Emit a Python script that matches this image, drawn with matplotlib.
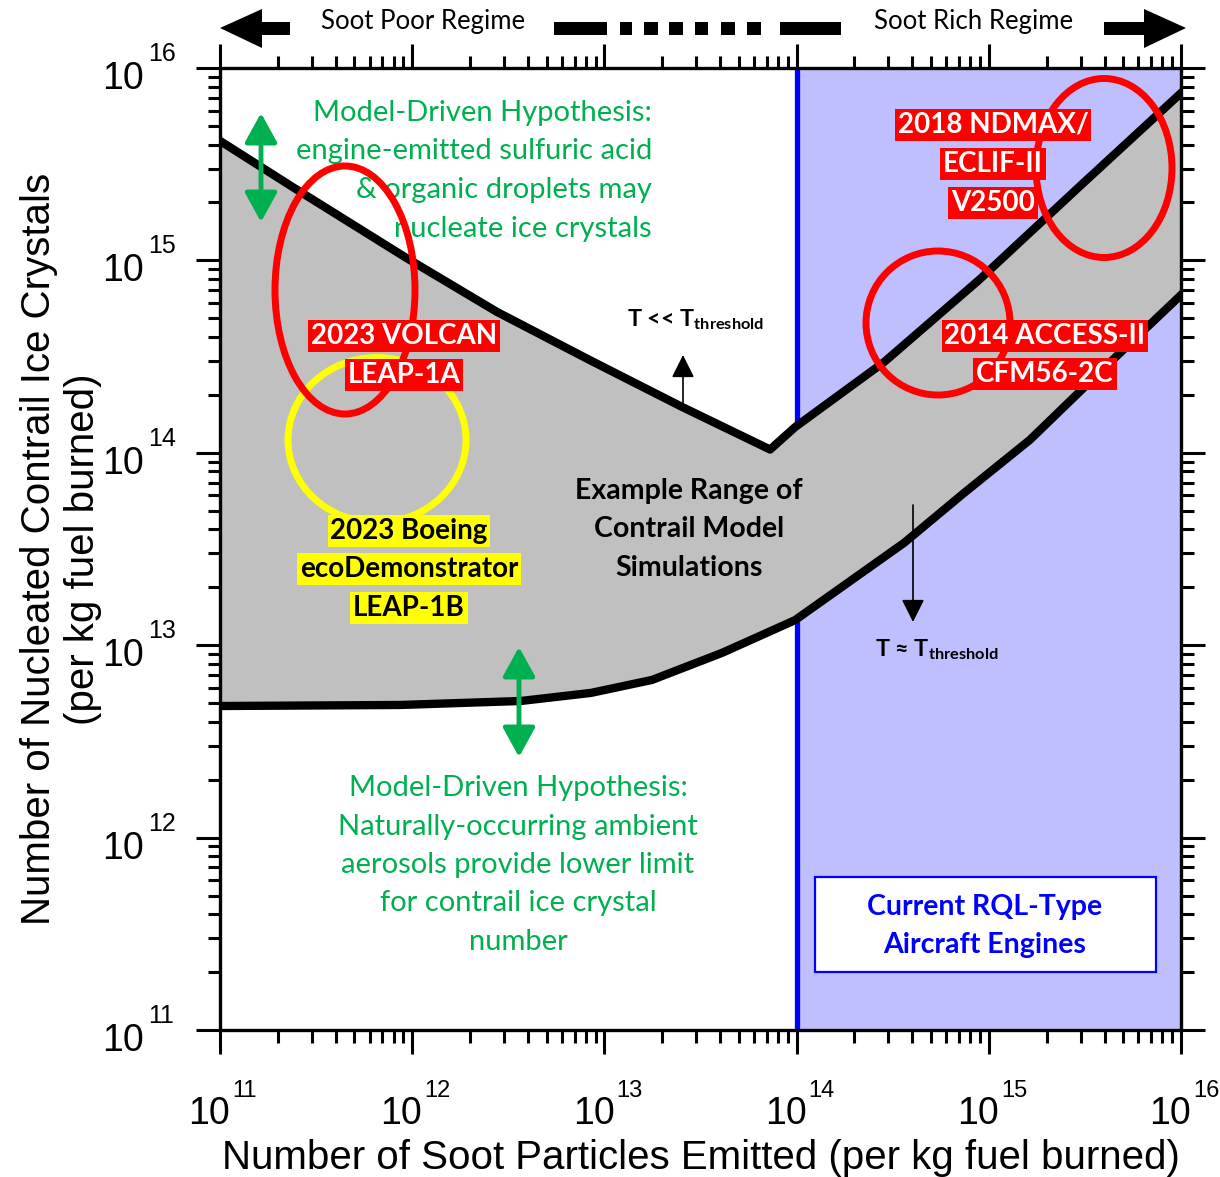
import numpy as np
import matplotlib
matplotlib.use("Agg")
import matplotlib.pyplot as plt
from matplotlib.patches import Ellipse, Polygon, Rectangle
from matplotlib.ticker import LogLocator, NullFormatter, FixedLocator

plt.rcParams['font.family'] = ['Liberation Sans', 'DejaVu Sans']
plt.rcParams['mathtext.fontset'] = 'custom'
plt.rcParams['mathtext.rm'] = 'Liberation Sans'
plt.rcParams['mathtext.bf'] = 'Lato:bold'

# ---------------- data ----------------
soot_upper = [1e11, 2.43e11, 9.18e11, 2.76e12, 8.41e12, 2.54e13, 7.28e13,
              9.82e13, 2.85e14, 8.89e14, 2.91e15, 1e16]
ice_upper = [4.18e15, 2.38e15, 1.04e15, 5.40e14, 3.03e14, 1.73e14, 1.04e14,
             1.36e14, 2.96e14, 7.91e14, 2.38e15, 7.41e15]

soot_lower = [1e11, 8.65e11, 3.68e12, 8.51e12, 1.77e13, 4.09e13, 9.82e13,
              3.62e14, 7.43e14, 1.64e15, 4.03e15, 1e16]
ice_lower = [4.83e12, 4.89e12, 5.13e12, 5.65e12, 6.60e12, 9.12e12, 1.35e13,
             3.40e13, 6.18e13, 1.17e14, 2.79e14, 6.61e14]

soot_rich_start = 1e14
x_limits = [1e11, 1e16]
y_limits = [1e11, 1e16]
major_ticks = [1e11, 1e12, 1e13, 1e14, 1e15, 1e16]

GREEN = '#00B050'
RED = '#FF0000'
YELLOW = '#FFFF00'
BLUE = '#0000FF'
LAV = '#BFBFFF'
GRAY = '#C0C0C0'
LABEL_FONT = ['Lato', 'DejaVu Sans']

fig = plt.figure(figsize=(12.2, 11.77), dpi=100)
ax = fig.add_axes([220/1220, 1 - 1030/1177, 961/1220, 962/1177])
ax.set_xscale('log')
ax.set_yscale('log')
ax.set_xlim(x_limits)
ax.set_ylim(y_limits)

def fx(px):
    return (px - 220) / 961.0

def fy(py):
    return (1030 - py) / 962.0

# background regions
ax.axvspan(soot_rich_start, x_limits[1], color=LAV, zorder=0, lw=0)
ax.axvline(soot_rich_start, color=BLUE, lw=3.8, zorder=1)

# gray band
ax.fill(np.r_[soot_upper, soot_lower[::-1]], np.r_[ice_upper, ice_lower[::-1]],
        color=GRAY, lw=0, zorder=2)
ax.plot(soot_upper, ice_upper, color='black', lw=6, zorder=3, solid_joinstyle='round')
ax.plot(soot_lower, ice_lower, color='black', lw=6, zorder=3, solid_joinstyle='round')

# ticks
for axis in (ax.xaxis, ax.yaxis):
    axis.set_major_locator(FixedLocator(major_ticks))
    axis.set_minor_locator(LogLocator(base=10, subs=np.arange(2, 10), numticks=100))
    axis.set_minor_formatter(NullFormatter())
ax.set_xticklabels([])
ax.set_yticklabels([])
ax.tick_params(which='major', direction='out', length=17, width=2.2, top=True, right=True)
ax.tick_params(which='minor', direction='out', length=9, width=2.2, top=True, right=True)
for s in ax.spines.values():
    s.set_linewidth(2.4)
    s.set_zorder(6)

# tick labels: "10" with raised exponent
for t in major_ticks:
    e = int(round(np.log10(t)))
    a = (np.log10(t) - np.log10(x_limits[0])) / (np.log10(x_limits[1]) - np.log10(x_limits[0]))
    ax.text(a + 10/961, fy(1124), '10', transform=ax.transAxes, ha='right', va='baseline',
            fontsize=27, clip_on=False)
    ax.text(a + 12/961, fy(1097), str(e), transform=ax.transAxes, ha='left', va='baseline',
            fontsize=17, clip_on=False)
    ax.text(fx(144), a - 21/962, '10', transform=ax.transAxes, ha='right', va='baseline',
            fontsize=27, clip_on=False)
    ax.text(fx(148), a + 7/962, str(e), transform=ax.transAxes, ha='left', va='baseline',
            fontsize=18, clip_on=False)

ax.set_xlabel('Number of Soot Particles Emitted (per kg fuel burned)', fontsize=29, va='top')
ax.xaxis.set_label_coords(0.5, fy(1139))
ax.set_ylabel('Number of Nucleated Contrail Ice Crystals\n(per kg fuel burned)', fontsize=29,
              va='bottom')
ax.yaxis.set_label_coords(fx(102), 0.5)

# green hypothesis texts
top_lines = ['Model-Driven Hypothesis:', 'engine-emitted sulfuric acid',
             '& organic droplets may', 'nucleate ice crystals']
for i, t in enumerate(top_lines):
    ax.text(fx(652), fy(113 + 38.5 * i), t, transform=ax.transAxes, ha='right', va='center',
            color=GREEN, fontsize=21, family=LABEL_FONT, zorder=4)
bot_lines = ['Model-Driven Hypothesis:', 'Naturally-occurring ambient',
             'aerosols provide lower limit', 'for contrail ice crystal', 'number']
for i, t in enumerate(bot_lines):
    ax.text(fx(518), fy(788 + 38.5 * i), t, transform=ax.transAxes, ha='center', va='center',
            color=GREEN, fontsize=21, family=LABEL_FONT, zorder=4)

# green double arrows
for x0, y0, y1 in [(261, 113, 222), (519, 647, 757)]:
    ax.annotate('', xy=(fx(x0), fy(y0)), xytext=(fx(x0), fy(y1)), xycoords='axes fraction',
                arrowprops=dict(arrowstyle='<|-|>,head_length=0.4,head_width=0.22', color=GREEN,
                                lw=3.5, mutation_scale=45, shrinkA=0, shrinkB=0), zorder=4)

# ellipses
ellipses = [((377, 440), 178, 165, YELLOW),
            ((345, 290), 140, 248, RED),
            ((1104, 168), 136, 179, RED),
            ((938, 323), 144, 144, RED)]
for (cx, cy), w, h, c in ellipses:
    ax.add_patch(Ellipse((fx(cx), fy(cy)), w / 961.0, h / 962.0, transform=ax.transAxes,
                         fill=False, ec=c, lw=5, zorder=5))

# labelled boxes
def boxed(lines, xc, ys, fc, tc):
    for t, y in zip(lines, ys):
        ax.text(fx(xc), fy(y), t, transform=ax.transAxes, ha='center', va='center',
                color=tc, fontsize=20, fontweight='bold', family=LABEL_FONT, zorder=7,
                bbox=dict(boxstyle='square,pad=0.1', fc=fc, ec='none'))

boxed(['2023 VOLCAN', 'LEAP-1A'], 404, [336, 375], RED, 'white')
boxed(['2018 NDMAX/', 'ECLIF-II', 'V2500'], 993, [125, 164, 203], RED, 'white')
boxed(['2014 ACCESS-II', 'CFM56-2C'], 1045, [336, 374], RED, 'white')
boxed(['2023 Boeing', 'ecoDemonstrator', 'LEAP-1B'], 409, [531, 569, 608], YELLOW, 'black')

for t, y in zip(['Example Range of', 'Contrail Model', 'Simulations'], [491, 529, 568]):
    ax.text(fx(689), fy(y), t, transform=ax.transAxes, ha='center', va='center',
            color='black', fontsize=20.5, fontweight='bold', family=LABEL_FONT, zorder=4)

# threshold arrows and labels
ax.annotate('', xy=(fx(683), fy(355)), xytext=(fx(683), fy(406)), xycoords='axes fraction',
            arrowprops=dict(arrowstyle='-|>,head_length=0.5,head_width=0.25', color='black',
                            lw=1.2, mutation_scale=28, shrinkA=0, shrinkB=0), zorder=4)
ax.annotate('', xy=(fx(913), fy(622)), xytext=(fx(913), fy(505)), xycoords='axes fraction',
            arrowprops=dict(arrowstyle='-|>,head_length=0.5,head_width=0.25', color='black',
                            lw=1.2, mutation_scale=28, shrinkA=0, shrinkB=0), zorder=4)
ax.text(fx(627), fy(326), r'T << T$_{\mathbf{threshold}}$', transform=ax.transAxes,
        ha='left', va='baseline', fontsize=16.8, fontweight='bold', family=LABEL_FONT, zorder=4)
ax.text(fx(875), fy(656), r'T ≈ T$_{\mathbf{threshold}}$', transform=ax.transAxes,
        ha='left', va='baseline', fontsize=16.8, fontweight='bold', family=LABEL_FONT, zorder=4)

# RQL box
ax.add_patch(Rectangle((fx(815), fy(972)), (1156 - 815) / 961.0, (972 - 877) / 962.0,
                       transform=ax.transAxes, fc='white', ec=BLUE, lw=1.6, zorder=4))
for t, y in zip(['Current RQL-Type', 'Aircraft Engines'], [907, 945]):
    ax.text(fx(985), fy(y), t, transform=ax.transAxes, ha='center', va='center',
            color=BLUE, fontsize=20.5, fontweight='bold', family=LABEL_FONT, zorder=5)

# regime arrows above the plot
left_arrow = [(220, 28), (262, 9), (262, 22), (290, 22), (290, 35), (262, 35), (262, 48)]
right_arrow = [(1186, 28), (1144, 9), (1144, 22), (1104, 22), (1104, 35), (1144, 35), (1144, 48)]
for poly in (left_arrow, right_arrow):
    ax.add_patch(Polygon([(fx(a), fy(b)) for a, b in poly], closed=True, transform=ax.transAxes,
                         fc='black', ec='none', clip_on=False))
segs = [(554, 607), (620, 632), (644, 658), (669, 683), (695, 708), (721, 735), (747, 761), (780, 841)]
for a, b in segs:
    ax.add_patch(Rectangle((fx(a), fy(35)), (b - a) / 961.0, 13 / 962.0, transform=ax.transAxes,
                           fc='black', ec='none', clip_on=False))
ax.text(fx(423), fy(22), 'Soot Poor Regime', transform=ax.transAxes, ha='center', va='center',
        fontsize=18.5, family=LABEL_FONT)
ax.text(fx(974), fy(22), 'Soot Rich Regime', transform=ax.transAxes, ha='center', va='center',
        fontsize=18.5, family=LABEL_FONT)

fig.savefig('out.png', dpi=100)
